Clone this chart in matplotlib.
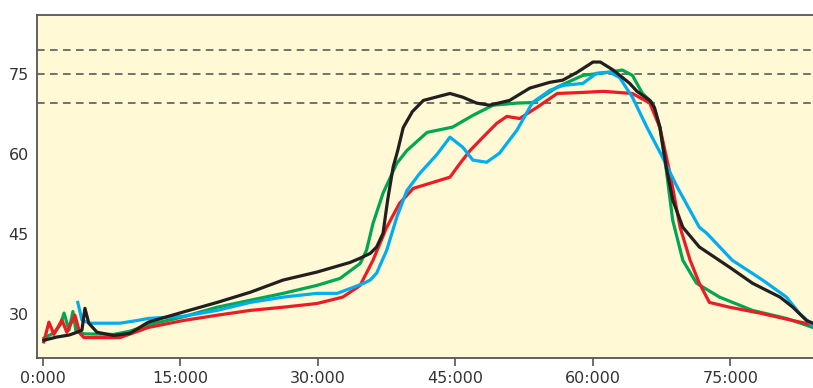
import matplotlib.pyplot as plt

# time in minutes
t_black = [0.1, 1.5, 2.9, 3.7, 4.25, 4.58, 5.0, 5.9, 7.7, 9.5, 11.5, 15.3, 19.0, 22.6, 26.2, 29.9,
           33.5, 34.6, 35.7, 36.4, 37.1, 37.6, 38.2, 38.7, 39.3, 40.3, 41.5, 43.5, 44.4, 45.8, 47.3,
           48.7, 50.9, 53.1, 55.3, 56.7, 58.3, 60.0, 60.8, 62.2, 64.0, 64.8, 66.2, 66.7, 67.3, 68.0,
           68.7, 69.8, 71.6, 74.9, 77.4, 80.4, 81.8, 83.3, 84]
v_black = [25.1, 25.7, 26.1, 26.6, 27.0, 31.1, 28.3, 26.6, 26.0, 26.4, 28.5, 30.4, 32.2, 34.1, 36.4,
           37.9, 39.7, 40.5, 41.4, 42.6, 45.2, 51.4, 57.6, 60.7, 65.0, 68.0, 70.1, 71.0, 71.4, 70.7,
           69.6, 69.2, 70.1, 72.4, 73.5, 73.9, 75.4, 77.3, 77.3, 75.8, 73.3, 71.8, 70.1, 68.8, 65.1,
           57.5, 51.4, 46.3, 42.6, 38.8, 35.8, 33.2, 31.3, 28.8, 28.3]

t_green = [0.1, 1.2, 1.9, 2.3, 2.84, 3.27, 3.6, 4.5, 7.7, 9.5, 11.5, 15.3, 19.0, 22.6, 26.2, 29.9,
           32.4, 34.6, 35.3, 36.0, 37.1, 38.6, 39.7, 41.9, 44.7, 46.9, 49.1, 51.7, 53.5, 56.1, 58.9,
           61.8, 63.2, 64.3, 65.4, 66.5, 67.3, 68.0, 68.7, 69.8, 71.3, 73.8, 77.4, 81.1, 84]
v_green = [25.5, 26.5, 28.0, 30.2, 27.0, 30.5, 26.8, 26.3, 26.2, 26.8, 28.0, 29.5, 31.3, 32.6, 33.9,
           35.4, 36.7, 39.5, 42.0, 47.0, 52.7, 58.3, 60.7, 64.1, 65.1, 67.3, 69.2, 69.6, 69.7, 72.6,
           74.8, 75.4, 75.8, 74.8, 71.4, 69.6, 65.0, 57.0, 47.6, 40.1, 35.8, 33.2, 30.7, 29.2, 27.5]

t_red = [0.1, 0.65, 1.2, 2.07, 2.6, 3.49, 4.03, 4.47, 8.4, 11.5, 15.3, 19.0, 22.6, 26.2, 29.9, 32.7,
         34.2, 34.6, 36.0, 37.5, 38.9, 40.4, 42.5, 44.4, 45.5, 46.6, 48.0, 49.5, 50.6, 52.0, 53.9,
         56.1, 58.9, 61.1, 64.3, 66.2, 67.3, 68.4, 69.5, 70.6, 71.6, 72.7, 74.9, 78.2, 81.8, 84]
v_red = [24.8, 28.5, 26.2, 28.9, 26.6, 29.8, 26.4, 25.6, 25.6, 27.5, 28.8, 29.8, 30.7, 31.3, 32.0,
         33.2, 34.9, 35.4, 40.1, 46.3, 50.8, 53.6, 54.7, 55.7, 58.3, 60.7, 63.2, 65.8, 67.1, 66.7,
         68.8, 71.4, 71.6, 71.8, 71.4, 69.6, 65.0, 56.4, 46.3, 40.1, 35.8, 32.2, 31.3, 30.2, 28.8, 28.0]

t_blue = [3.8, 4.25, 5.1, 8.4, 10.25, 11.5, 15.3, 19.0, 22.6, 26.2, 29.9, 32.1, 33.8, 35.0, 35.7,
          36.4, 37.5, 38.6, 39.7, 41.1, 43.0, 44.4, 45.8, 46.9, 48.4, 49.8, 51.7, 53.4, 55.3, 56.7,
          58.9, 60.4, 61.8, 62.9, 64.3, 65.9, 67.6, 69.2, 71.6, 72.4, 75.2, 78.5, 81.1, 82.5, 83.9]
v_blue = [32.2, 28.9, 28.3, 28.3, 28.8, 29.2, 29.6, 30.7, 32.2, 33.2, 33.9, 33.9, 35.0, 35.8, 36.4,
          37.7, 42.0, 48.2, 53.2, 56.4, 60.0, 63.2, 61.3, 58.9, 58.5, 60.2, 64.5, 69.7, 72.0, 72.9,
          73.3, 75.2, 75.4, 74.4, 70.7, 65.0, 59.4, 53.8, 46.3, 45.2, 40.1, 36.4, 33.2, 30.2, 28.0]

dashed_levels = [79.5, 75.0, 69.6]
xticks = [0, 15, 30, 45, 60, 75]
xlabels = ['0:000', '15:000', '30:000', '45:000', '60:000', '75:000']
yticks = [30, 45, 60, 75]

fig = plt.figure(figsize=(8.13, 3.88), dpi=100)
ax = fig.add_axes([0.0455, 0.077, 0.9545, 0.884])
ax.set_facecolor('#fff9d6')

for y in dashed_levels:
    ax.axhline(y, color='#4d4d4d', lw=1.1, ls=(0, (5, 3.5)), zorder=1)

ax.plot(t_green, v_green, color='#00a651', lw=2.3, zorder=3)
ax.plot(t_red, v_red, color='#ed1c24', lw=2.3, zorder=4)
ax.plot(t_blue, v_blue, color='#00aeef', lw=2.3, zorder=5)
ax.plot(t_black, v_black, color='#231f20', lw=2.3, zorder=6)

ax.set_xlim(-0.65, 84)
ax.set_ylim(21.75, 86.1)
ax.set_xticks(xticks)
ax.set_xticklabels(xlabels)
ax.set_yticks(yticks)

ax.tick_params(axis='x', direction='out', length=6, width=1.2, color='#555555',
               labelsize=11.5, labelcolor='#333333', pad=3)
ax.tick_params(axis='y', length=0, labelsize=11.5, labelcolor='#333333', pad=6)

for side in ['left', 'bottom', 'top']:
    ax.spines[side].set_color('#555555')
    ax.spines[side].set_linewidth(1.3)
ax.spines['right'].set_visible(False)

plt.savefig('out.png', dpi=100)
